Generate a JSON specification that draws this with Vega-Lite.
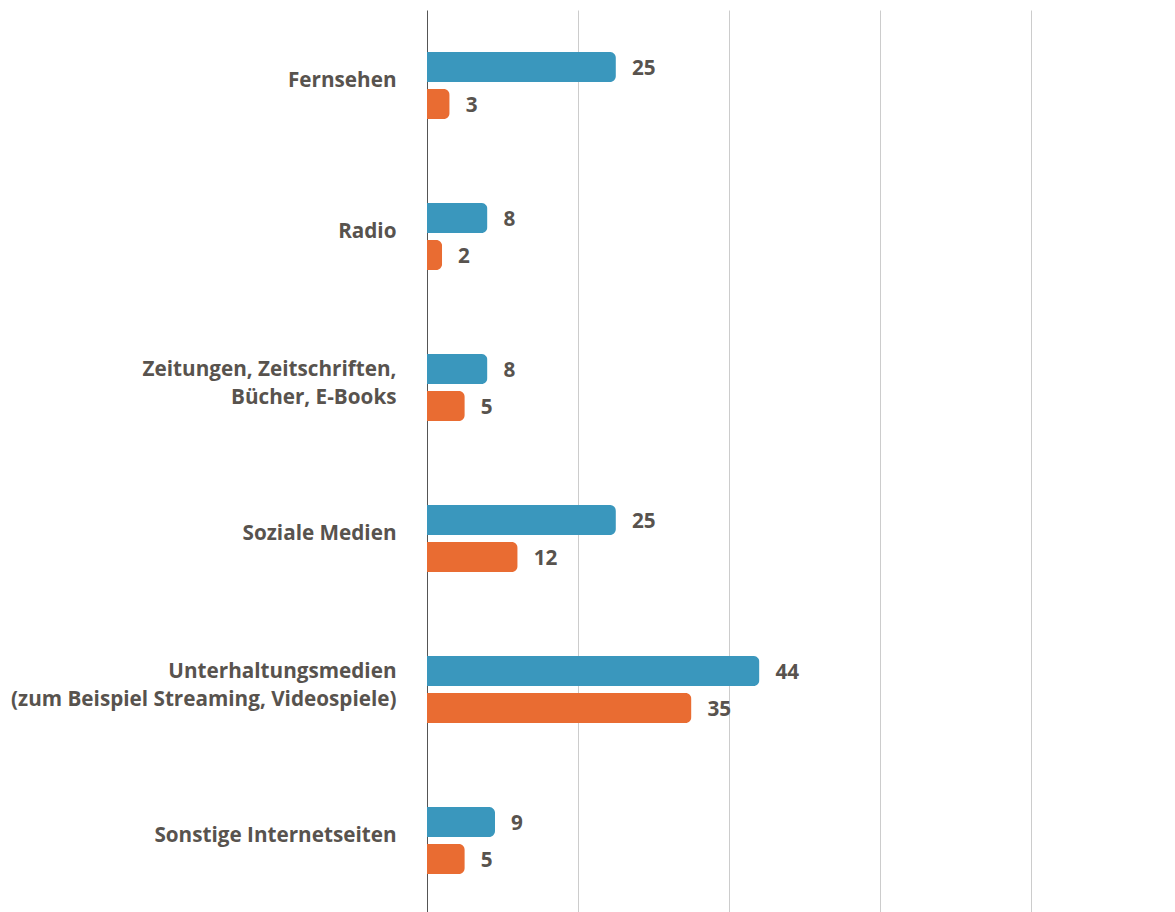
{
  "$schema": "https://vega.github.io/schema/vega-lite/v6.json",
  "width": 748,
  "height": 906,
  "autosize": {"type": "none"},
  "padding": {"left": 427, "top": 10, "right": 0, "bottom": 0},
  "background": "white",
  "config": {"view": {"stroke": null}, "font": "Open Sans"},
  "data": {"values": [
    {"cat": "Fernsehen", "series": "A", "value": 25},
    {"cat": "Fernsehen", "series": "B", "value": 3},
    {"cat": "Radio", "series": "A", "value": 8},
    {"cat": "Radio", "series": "B", "value": 2},
    {"cat": "Zeitungen, Zeitschriften,|Bücher, E-Books", "series": "A", "value": 8},
    {"cat": "Zeitungen, Zeitschriften,|Bücher, E-Books", "series": "B", "value": 5},
    {"cat": "Soziale Medien", "series": "A", "value": 25},
    {"cat": "Soziale Medien", "series": "B", "value": 12},
    {"cat": "Unterhaltungsmedien|(zum Beispiel Streaming, Videospiele)", "series": "A", "value": 44},
    {"cat": "Unterhaltungsmedien|(zum Beispiel Streaming, Videospiele)", "series": "B", "value": 35},
    {"cat": "Sonstige Internetseiten", "series": "A", "value": 9},
    {"cat": "Sonstige Internetseiten", "series": "B", "value": 5}
  ]},
  "encoding": {
    "y": {
      "field": "cat", "type": "nominal", "sort": null,
      "scale": {"paddingInner": 0.556, "paddingOuter": 0.278},
      "axis": {
        "title": null, "ticks": false, "domain": true, "domainColor": "#555555", "domainWidth": 1,
        "labelExpr": "split(datum.label, '|')",
        "labelFont": "Open Sans", "labelFontWeight": "bold", "labelFontSize": 20.7,
        "labelColor": "#58534e", "labelPadding": 31, "labelLineHeight": 28, "labelLimit": 500,
        "labelOffset": {"condition": {"test": "indexof(datum.value, '|') >= 0", "value": -18}, "value": -5}
      }
    },
    "yOffset": {"field": "series", "type": "nominal", "scale": {"paddingInner": 0.19, "paddingOuter": 0}},
    "x": {
      "field": "value", "type": "quantitative",
      "scale": {"domain": [0, 99], "nice": false, "zero": true},
      "axis": {
        "title": null, "labels": false, "ticks": false, "domain": false,
        "values": [20, 40, 60, 80], "grid": true, "gridColor": "#cccccc", "gridWidth": 1
      }
    }
  },
  "layer": [
    {
      "mark": {"type": "bar", "cornerRadiusEnd": 6},
      "encoding": {
        "color": {
          "field": "series", "type": "nominal",
          "scale": {"domain": ["A", "B"], "range": ["#3a97bd", "#e96c32"]},
          "legend": null
        }
      }
    },
    {
      "mark": {"type": "text", "align": "left", "baseline": "middle", "dx": 16, "dy": 2, "font": "Open Sans", "fontWeight": "bold", "fontSize": 20.7, "color": "#58534e"},
      "encoding": {"text": {"field": "value", "type": "quantitative"}}
    }
  ]
}
